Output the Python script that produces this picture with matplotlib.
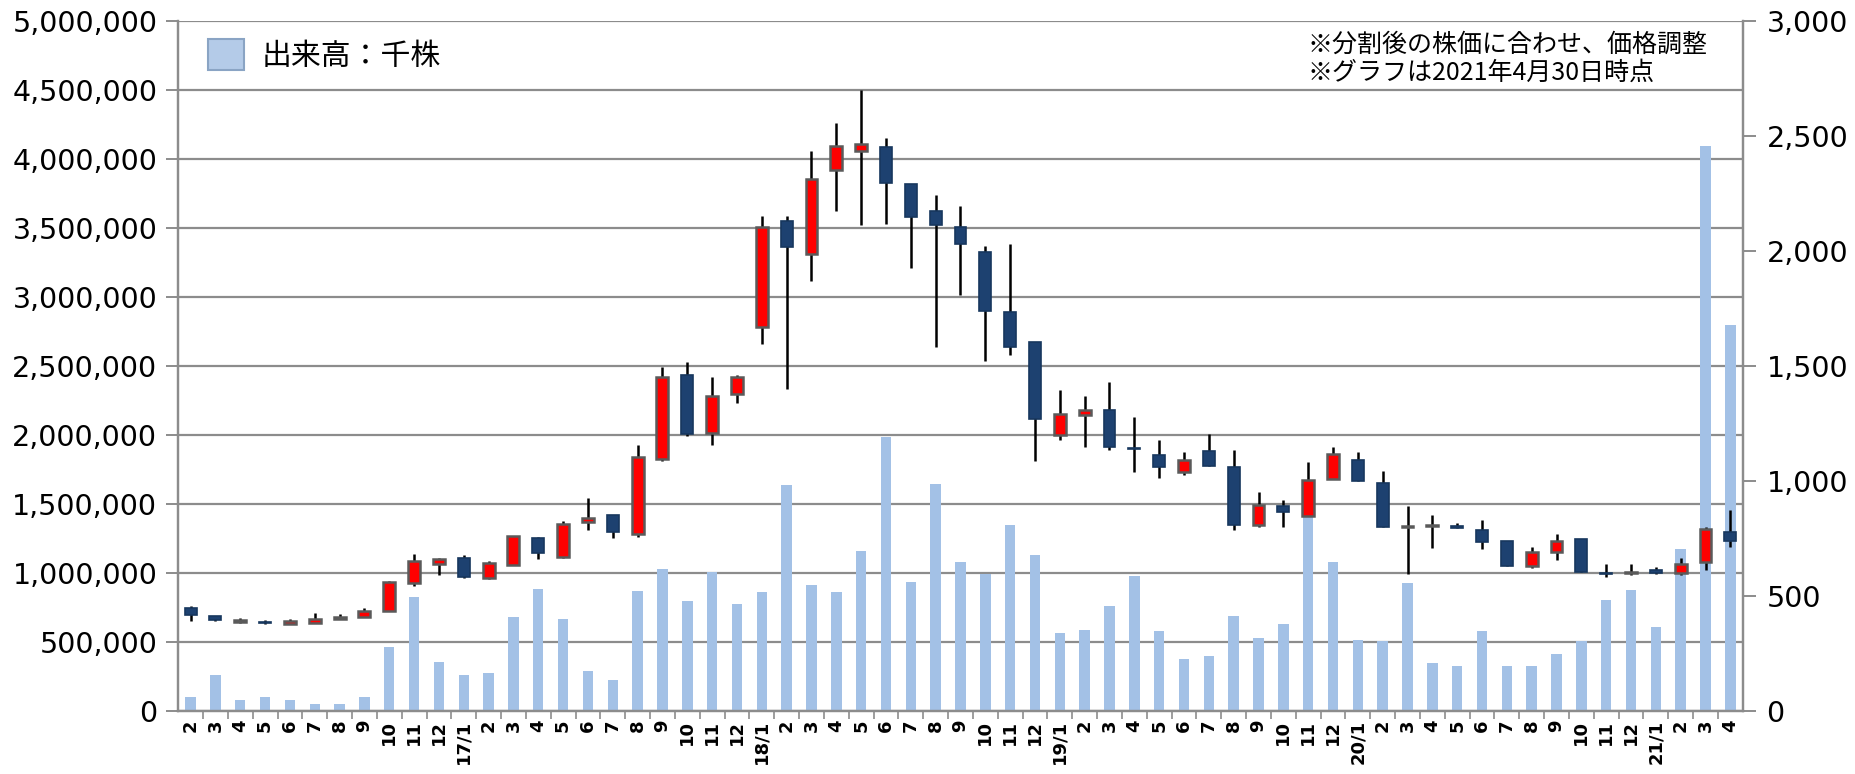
import matplotlib
matplotlib.use('Agg')
import matplotlib.pyplot as plt
from matplotlib.patches import Patch
from matplotlib.ticker import FuncFormatter, MultipleLocator

# monthly candles 2016/2 - 2021/4 (price, yen) and volume (thousand shares)
months = ['2', '3', '4', '5', '6', '7', '8', '9', '10', '11', '12',
          '17/1', '2', '3', '4', '5', '6', '7', '8', '9', '10', '11', '12',
          '18/1', '2', '3', '4', '5', '6', '7', '8', '9', '10', '11', '12',
          '19/1', '2', '3', '4', '5', '6', '7', '8', '9', '10', '11', '12',
          '20/1', '2', '3', '4', '5', '6', '7', '8', '9', '10', '11', '12',
          '21/1', '2', '3', '4']

opens = [451, 414, 386, 390, 379, 385, 399, 408, 438, 557, 641,
         665, 579, 637, 753, 670, 824, 853, 771, 1097, 1462, 1211, 1379,
         1672, 2130, 1989, 2352, 2434, 2451, 2291, 2172, 2104, 1995, 1736, 1604,
         1201, 1289, 1308, 1145, 1115, 1040, 1132, 1062, 808, 891, 850, 1009,
         1092, 994, 800, 804, 804, 788, 740, 630, 692, 747, 603, 600,
         614, 600, 647, 777]
highs = [458, 414, 405, 398, 403, 425, 423, 451, 568, 685, 665,
         678, 652, 762, 758, 826, 927, 853, 1159, 1495, 1518, 1452, 1463,
         2154, 2154, 2434, 2557, 2698, 2493, 2291, 2242, 2194, 2020, 2031, 1604,
         1394, 1370, 1430, 1278, 1179, 1128, 1205, 1137, 954, 918, 1082, 1150,
         1128, 1046, 890, 853, 820, 832, 740, 714, 771, 747, 641, 641,
         628, 667, 799, 876]
lows = [392, 394, 384, 381, 379, 385, 399, 408, 436, 546, 594,
        579, 575, 634, 661, 667, 789, 753, 758, 1088, 1198, 1156, 1339,
        1595, 1399, 1870, 2172, 2112, 2117, 1925, 1582, 1811, 1522, 1549, 1086,
        1179, 1147, 1137, 1040, 1015, 1027, 1068, 789, 802, 802, 850, 1009,
        1000, 802, 597, 711, 796, 707, 630, 623, 659, 606, 582, 594,
        597, 594, 612, 716]
closes = [418, 396, 396, 383, 392, 403, 410, 438, 564, 652, 661,
          584, 643, 762, 689, 813, 842, 780, 1104, 1452, 1207, 1370, 1452,
          2104, 2017, 2315, 2456, 2465, 2297, 2148, 2112, 2029, 1738, 1582, 1271,
          1291, 1311, 1147, 1141, 1062, 1092, 1068, 808, 896, 867, 1004, 1119,
          1000, 802, 805, 808, 796, 736, 630, 692, 740, 606, 598, 605,
          603, 641, 790, 738]
volume = [100000, 260000, 85000, 100000, 85000, 55000, 55000, 100000, 464000, 830000, 360000,
          260000, 280000, 680000, 885000, 672000, 290000, 225000, 870000, 1029000, 800000, 1010000, 778000,
          867000, 1639000, 913000, 867000, 1163000, 1984000, 937000, 1648000, 1080000, 992000, 1349000, 1135000,
          565000, 592000, 760000, 983000, 580000, 381000, 403000, 687000, 531000, 632000, 1430000, 1080000,
          516000, 510000, 928000, 350000, 325000, 583000, 330000, 330000, 418000, 510000, 806000, 876000,
          614000, 1175000, 4096000, 2800000]

notes = ['※分割後の株価に合わせ、価格調整', '※グラフは2021年4月30日時点']
legend_label = '出来高：千株'

jp = ['Noto Sans CJK JP', 'DejaVu Sans']
grid_c = '#8c8c8c'

fig = plt.figure(figsize=(18.56, 7.74), dpi=100)
ax = fig.add_axes([0.096, 0.081, 0.843, 0.892])
ax2 = ax.twinx()

x = list(range(len(months)))

# volume bars on the left axis
ax.bar(x, volume, width=0.42, color='#a3c1e6', zorder=2)
ax.set_ylim(0, 5000000)
ax.set_xlim(-0.5, len(months) - 0.5)
ax.yaxis.set_major_locator(MultipleLocator(500000))
ax.yaxis.set_major_formatter(FuncFormatter(lambda v, p: f'{int(v):,}'))
ax.grid(axis='y', color=grid_c, lw=1.6, zorder=0)
ax.set_axisbelow(True)

# candles on the right axis
ax2.vlines(x, lows, highs, color='black', lw=1.8, zorder=3)
for i in x:
    o, c = opens[i], closes[i]
    h = max(abs(c - o), 4)
    b = min(o, c)
    if c >= o:
        ax2.bar(i, h, bottom=b, width=0.48, color='#ff0000', edgecolor='#5a5a5a', lw=1.8, zorder=4)
    else:
        ax2.bar(i, h, bottom=b, width=0.48, color='#1d4170', edgecolor='#17375e', lw=1.2, zorder=4)
ax2.set_ylim(0, 3000)
ax2.yaxis.set_major_locator(MultipleLocator(500))
ax2.yaxis.set_major_formatter(FuncFormatter(lambda v, p: f'{int(v):,}'))

for a in (ax, ax2):
    a.spines['top'].set_visible(False)
    for s in ('left', 'right', 'bottom'):
        a.spines[s].set_color(grid_c)
        a.spines[s].set_linewidth(1.6)
ax.tick_params(axis='y', labelsize=20.5, length=9, width=1.4, color=grid_c, pad=6)
ax2.tick_params(axis='y', labelsize=20.5, length=9, width=1.4, color=grid_c, pad=8)

ax.set_xticks(x)
ax.set_xticklabels(months, rotation=90, fontsize=13, fontweight='bold')
ax.set_xticks([i + 0.5 for i in x[:-1]], minor=True)
ax.tick_params(axis='x', which='major', length=0, pad=6)
ax.tick_params(axis='x', which='minor', length=6, width=1.2, color=grid_c)

leg = ax.legend(handles=[Patch(facecolor='#b4cbe8', edgecolor='#8aa4c4', lw=1.5)], labels=[legend_label],
                loc='upper left', bbox_to_anchor=(0.002, 1.012), frameon=False,
                prop={'family': jp, 'size': 21.5}, handlelength=1.2, handleheight=1.2, handletextpad=0.6)

ax2.text(0.722, 0.985, '\n'.join(notes), transform=ax2.transAxes, va='top', ha='left',
         fontsize=18, family=jp, linespacing=1.12)

fig.savefig('out.png', dpi=100)
